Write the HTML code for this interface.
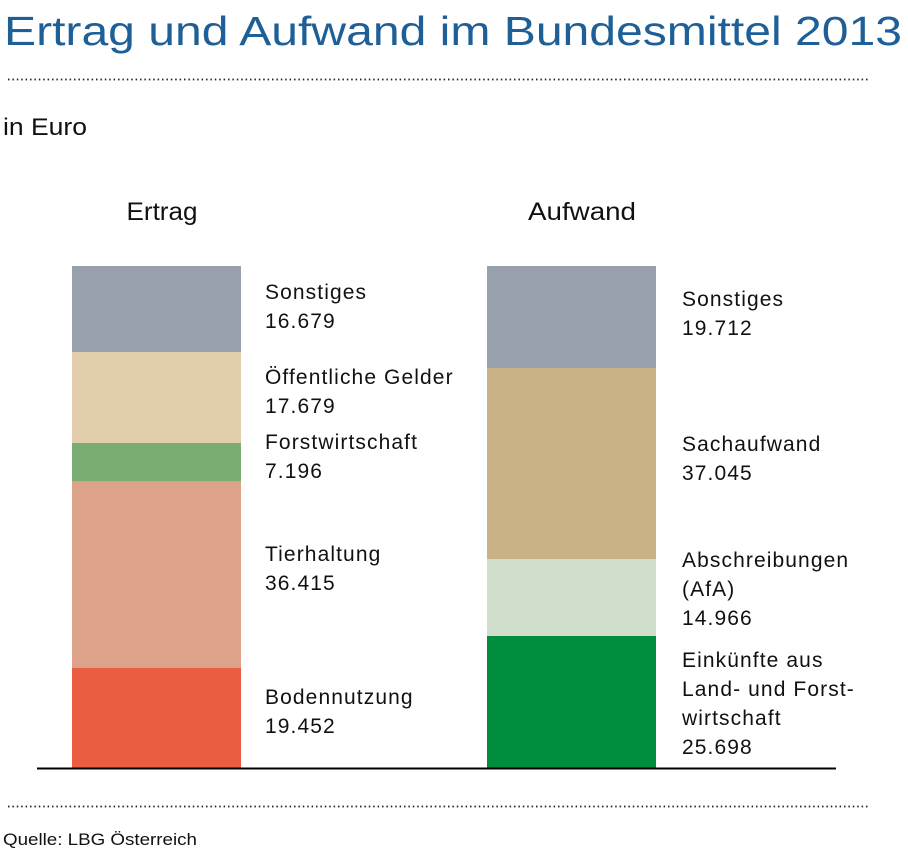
<!DOCTYPE html>
<html><head><meta charset="utf-8"><style>
html,body{margin:0;padding:0;background:#fff;}
svg{display:block;}
text{font-family:"Liberation Sans",sans-serif;fill:#111;}
</style></head><body>
<svg width="908" height="854" viewBox="0 0 908 854" xmlns="http://www.w3.org/2000/svg">
<text x="4" y="45" font-size="41" fill="#1d5f96" style="fill:#1d5f96" textLength="898" lengthAdjust="spacingAndGlyphs">Ertrag und Aufwand im Bundesmittel 2013</text>
<line x1="8" y1="79.5" x2="870" y2="79.5" stroke="#222" stroke-width="1.8" stroke-dasharray="1.5 2.9"/>
<text x="3" y="135" font-size="24" textLength="84" lengthAdjust="spacingAndGlyphs">in Euro</text>
<text x="162" y="220" font-size="25" text-anchor="middle" textLength="71" lengthAdjust="spacingAndGlyphs">Ertrag</text>
<text x="582" y="220" font-size="25" text-anchor="middle" textLength="108" lengthAdjust="spacingAndGlyphs">Aufwand</text>
<rect x="72" y="266" width="169" height="86" fill="#98a0ad"/>
<rect x="72" y="352" width="169" height="91" fill="#e2cdad"/>
<rect x="72" y="443" width="169" height="38" fill="#7aad73"/>
<rect x="72" y="481" width="169" height="187" fill="#dca38a"/>
<rect x="72" y="668" width="169" height="100" fill="#ea5d41"/>
<rect x="487" y="266" width="169" height="102" fill="#98a0ad"/>
<rect x="487" y="368" width="169" height="191" fill="#c9b286"/>
<rect x="487" y="559" width="169" height="77" fill="#d0dfcc"/>
<rect x="487" y="636" width="169" height="132" fill="#008d3c"/>
<line x1="37" y1="768.5" x2="836" y2="768.5" stroke="#000" stroke-width="2"/>
<g font-size="21" letter-spacing="1.1">
<text x="265" y="299">Sonstiges</text><text x="265" y="328">16.679</text>
<text x="265" y="384">Öffentliche Gelder</text><text x="265" y="413">17.679</text>
<text x="265" y="449">Forstwirtschaft</text><text x="265" y="478">7.196</text>
<text x="265" y="561">Tierhaltung</text><text x="265" y="590">36.415</text>
<text x="265" y="704">Bodennutzung</text><text x="265" y="733">19.452</text>
<text x="682" y="306">Sonstiges</text><text x="682" y="335">19.712</text>
<text x="682" y="451">Sachaufwand</text><text x="682" y="480">37.045</text>
<text x="682" y="567">Abschreibungen</text><text x="682" y="596">(AfA)</text><text x="682" y="625">14.966</text>
<text x="682" y="667">Einkünfte aus</text><text x="682" y="696">Land- und Forst-</text><text x="682" y="725">wirtschaft</text><text x="682" y="754">25.698</text>
</g>
<line x1="8" y1="806.5" x2="870" y2="806.5" stroke="#222" stroke-width="1.8" stroke-dasharray="1.5 2.9"/>
<text x="3" y="845" font-size="17" textLength="194" lengthAdjust="spacingAndGlyphs">Quelle: LBG Österreich</text>
</svg>
</body></html>
